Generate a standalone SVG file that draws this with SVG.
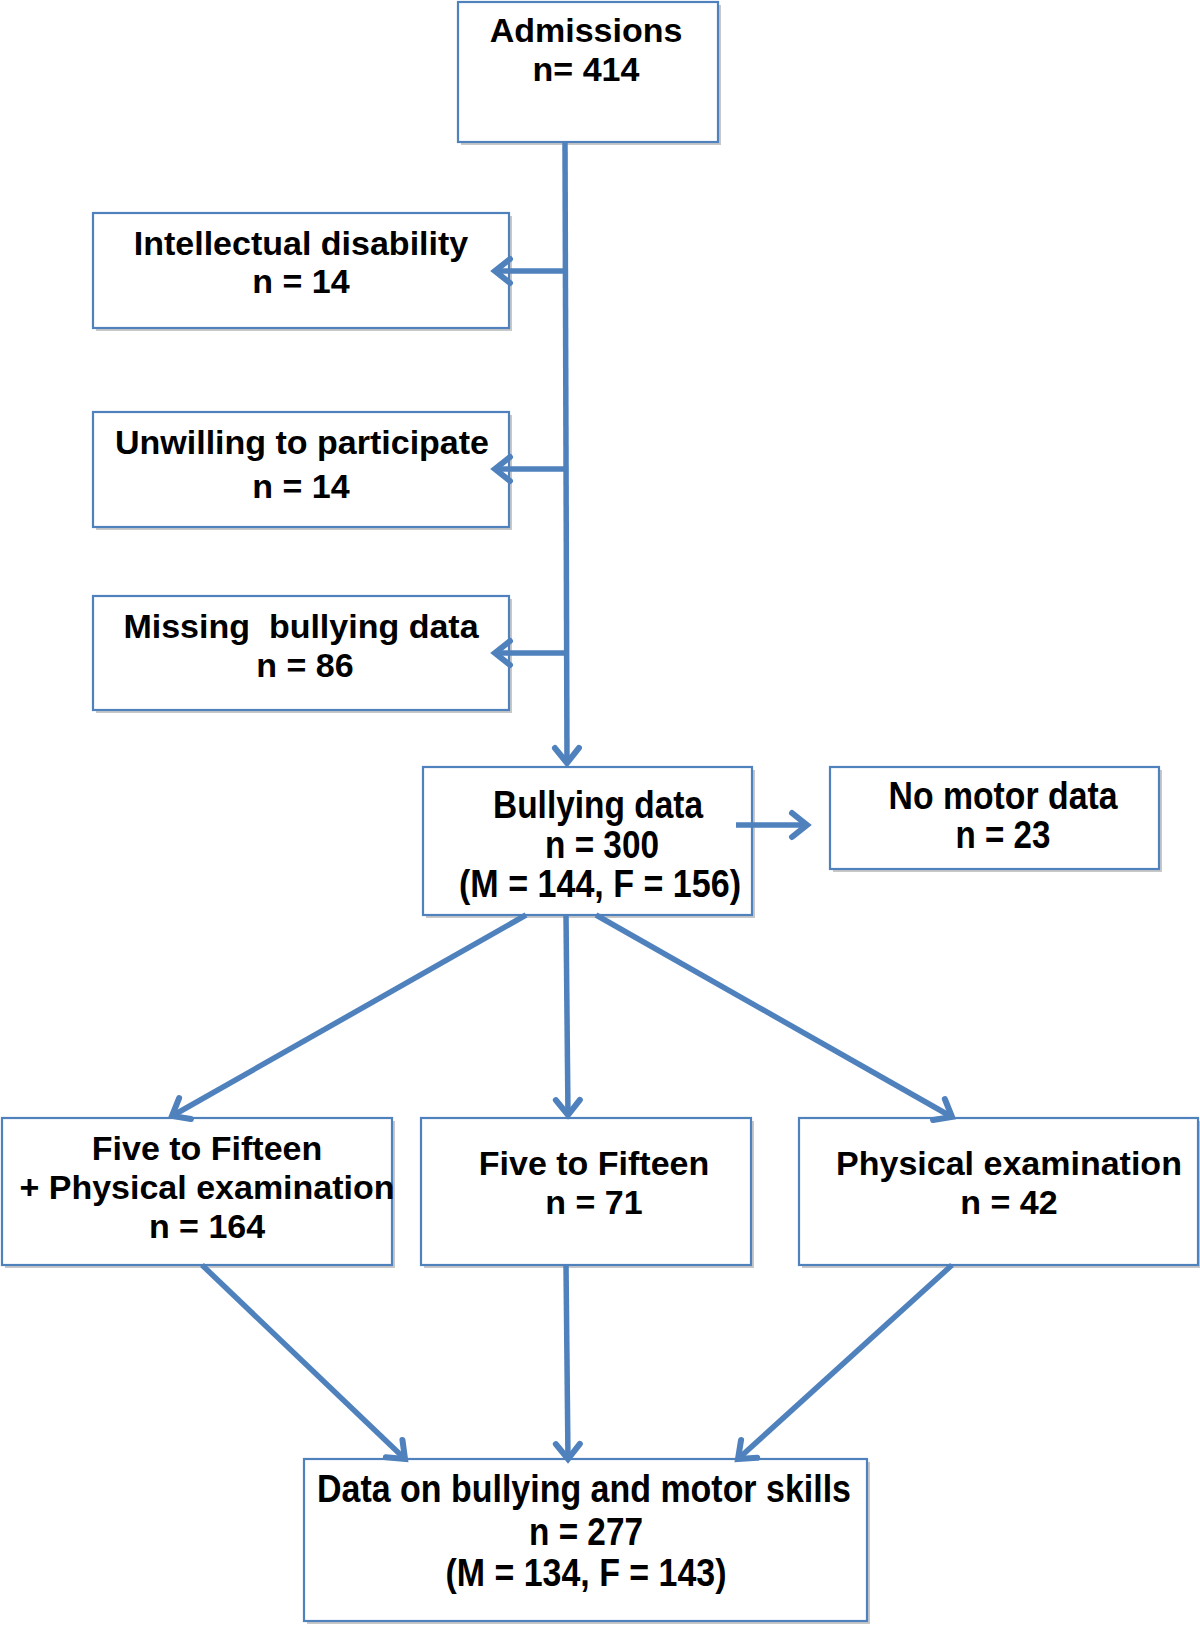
<svg xmlns="http://www.w3.org/2000/svg" width="1200" height="1626" viewBox="0 0 1200 1626">
<style>
.box{fill:#ffffff;stroke:#4F81BD;stroke-width:2.2}
.sh{fill:#c8c8c8}
.t{font-family:"Liberation Sans",Arial,sans-serif;font-weight:bold;font-size:34px;fill:#000;text-anchor:middle}
.c{font-size:39px}
.ln{fill:none;stroke:#4F81BD;stroke-width:5.5;marker-end:url(#ah)}
</style>
<defs>
<marker id="ah" markerUnits="userSpaceOnUse" markerWidth="50" markerHeight="50" viewBox="-25 -25 50 50" refX="0" refY="0" orient="auto">
<path d="M-15,-12 L0,0 L-15,12" fill="none" stroke="#4F81BD" stroke-width="6" stroke-linecap="round" stroke-linejoin="miter"/>
</marker>
</defs>
<rect width="1200" height="1626" fill="#ffffff"/>

<g id="admissions">
<rect class="sh" x="461" y="5" width="260" height="140"/>
<rect class="box" x="458" y="2" width="260" height="140"/>
<text class="t" x="586" y="42">Admissions</text>
<text class="t" x="586" y="81">n= 414</text>
</g>

<g id="intellectual">
<rect class="sh" x="96" y="216" width="416" height="115"/>
<rect class="box" x="93" y="213" width="416" height="115"/>
<text class="t" x="301" y="255">Intellectual disability</text>
<text class="t" x="301" y="293">n = 14</text>
</g>

<g id="unwilling">
<rect class="sh" x="96" y="415" width="416" height="115"/>
<rect class="box" x="93" y="412" width="416" height="115"/>
<text class="t" x="302" y="454">Unwilling to participate</text>
<text class="t" x="301" y="498">n = 14</text>
</g>

<g id="missing">
<rect class="sh" x="96" y="599" width="416" height="114"/>
<rect class="box" x="93" y="596" width="416" height="114"/>
<text class="t" x="301" y="638" xml:space="preserve">Missing  bullying data</text>
<text class="t" x="305" y="677">n = 86</text>
</g>

<g id="bullying">
<rect class="sh" x="426" y="770" width="329" height="148"/>
<rect class="box" x="423" y="767" width="329" height="148"/>
<text class="t c" x="598" y="818" textLength="210" lengthAdjust="spacingAndGlyphs">Bullying data</text>
<text class="t c" x="602" y="858" textLength="114" lengthAdjust="spacingAndGlyphs">n = 300</text>
<text class="t c" x="600" y="897" textLength="282" lengthAdjust="spacingAndGlyphs">(M = 144, F = 156)</text>
</g>

<g id="nomotor">
<rect class="sh" x="833" y="770" width="329" height="102"/>
<rect class="box" x="830" y="767" width="329" height="102"/>
<text class="t c" x="1003" y="809" textLength="229" lengthAdjust="spacingAndGlyphs">No motor data</text>
<text class="t c" x="1003" y="848" textLength="95" lengthAdjust="spacingAndGlyphs">n = 23</text>
</g>

<g id="fivefifteen-physical">
<rect class="sh" x="5" y="1121" width="390" height="147"/>
<rect class="box" x="2" y="1118" width="390" height="147"/>
<text class="t" x="207" y="1160">Five to Fifteen</text>
<text class="t" x="207" y="1199">+ Physical examination</text>
<text class="t" x="207" y="1238">n = 164</text>
</g>

<g id="fivefifteen">
<rect class="sh" x="424" y="1121" width="330" height="147"/>
<rect class="box" x="421" y="1118" width="330" height="147"/>
<text class="t" x="594" y="1175">Five to Fifteen</text>
<text class="t" x="594" y="1214">n = 71</text>
</g>

<g id="physical">
<rect class="sh" x="802" y="1121" width="399" height="147"/>
<rect class="box" x="799" y="1118" width="399" height="147"/>
<text class="t" x="1009" y="1175">Physical examination</text>
<text class="t" x="1009" y="1214">n = 42</text>
</g>

<g id="final">
<rect class="sh" x="307" y="1462" width="563" height="162"/>
<rect class="box" x="304" y="1459" width="563" height="162"/>
<text class="t c" x="584" y="1502" textLength="534" lengthAdjust="spacingAndGlyphs">Data on bullying and motor skills</text>
<text class="t c" x="586" y="1545" textLength="114" lengthAdjust="spacingAndGlyphs">n = 277</text>
<text class="t c" x="586" y="1586" textLength="281" lengthAdjust="spacingAndGlyphs">(M = 134, F = 143)</text>
</g>

<g id="connectors">
<path class="ln" d="M565,142 L567,763"/>
<path class="ln" d="M565,271 L495,271"/>
<path class="ln" d="M565,469 L495,469"/>
<path class="ln" d="M565,653 L495,653"/>
<path class="ln" d="M736,825 L807,825"/>
<path class="ln" d="M526,915 L172,1116"/>
<path class="ln" d="M566,915 L568,1115"/>
<path class="ln" d="M596,915 L952,1117"/>
<path class="ln" d="M202,1265 L405,1459"/>
<path class="ln" d="M566,1265 L568,1459"/>
<path class="ln" d="M952,1265 L738,1459"/>
</g>
</svg>
